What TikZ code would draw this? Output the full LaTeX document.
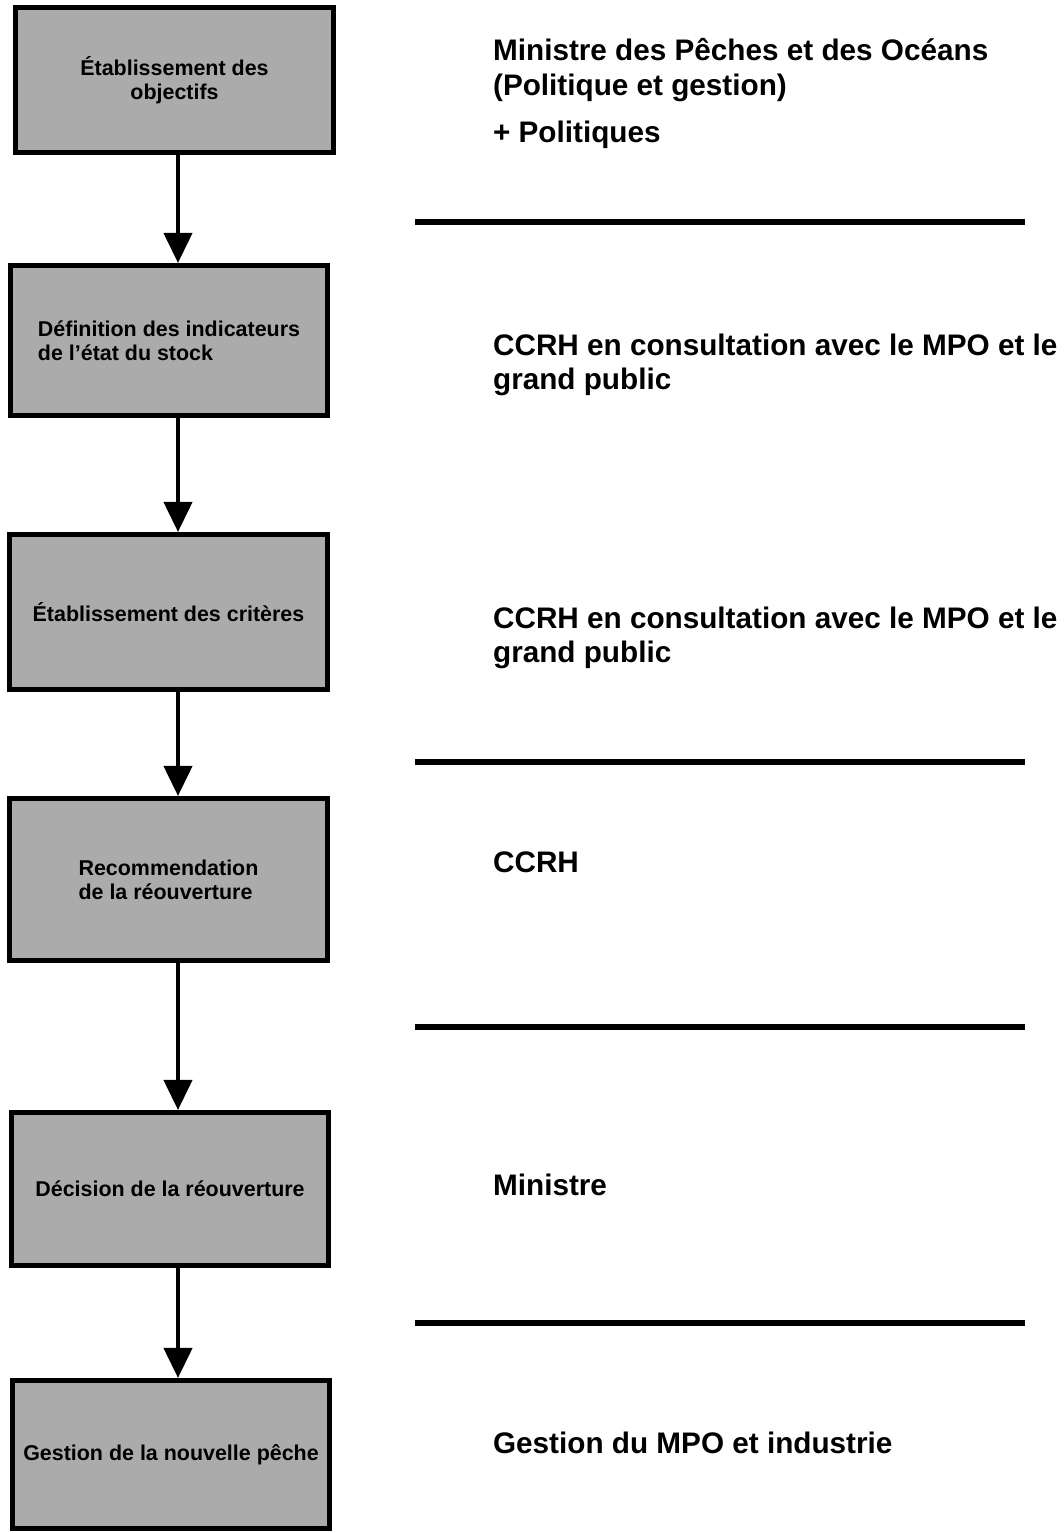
\documentclass[tikz,border=0pt]{standalone}
\usepackage{fontspec}
\setmainfont{Liberation Sans}
\usetikzlibrary{arrows.meta, positioning}
\definecolor{cbox}{HTML}{ABABAB}
\definecolor{cink}{HTML}{000000}
\tikzset{
  every picture/.style={font=\bfseries, line width=2.4pt},
  stage/.style={draw=cink, fill=cbox, minimum width=6.35cm, align=#1, inner sep=4pt, line width=2.6pt,
    font=\bfseries\fontsize{12.2}{13.6}\selectfont},
  stage/.default=center,
  arrow/.style={-{Triangle[length=6mm, width=5.6mm]}, draw=cink, line width=2.4pt},
  role/.style={anchor=west, align=left, inner sep=0pt, font=\bfseries\fontsize{16.9}{19.4}\selectfont},
  divider/.style={draw=cink, line width=3.4pt},
}

\begin{document}
\begin{tikzpicture}
  \useasboundingbox (0,0) rectangle (21.28,-30.66);
  % steps
  \node[stage, minimum height=2.91cm] (obj) at (3.49,-1.60) {Établissement des\\objectifs};
  \node[stage=left, minimum height=3.01cm] (ind) at (3.38,-6.81) {Définition des indicateurs\\de l'état du stock};
  \node[stage, minimum height=3.11cm] (crit) at (3.37,-12.24) {Établissement des critères};
  \node[stage=left, minimum height=3.25cm] (rec) at (3.37,-17.59) {Recommendation\\de la réouverture};
  \node[stage, minimum height=3.07cm] (dec) at (3.40,-23.78) {Décision de la réouverture};
  \node[stage, minimum height=2.97cm] (gest) at (3.42,-29.09) {Gestion de la nouvelle pêche};
  \coordinate (ax) at (3.56,0);
  \foreach \a/\b in {obj/ind, ind/crit, crit/rec, rec/dec, dec/gest}
    \draw[arrow] (\a.south -| ax) -- (\b.north -| ax);
  % who is in charge
  \node[role] (who-obj) at (9.82,-1.87) {Ministre des Pêches et des Océans\\(Politique et gestion)\\[0.26cm]+ Politiques};
  \node[role] (who-ind) at (9.82,-7.30) {CCRH en consultation avec le MPO et le\\grand public};
  \node[role] (who-crit) at (9.82,-12.76) {CCRH en consultation avec le MPO et le\\grand public};
  \node[role] (who-rec) at (9.82,-17.24) {CCRH};
  \node[role] (who-dec) at (9.82,-23.70) {Ministre};
  \node[role] (who-gest) at (9.82,-28.86) {Gestion du MPO et industrie};
  \foreach \y in {-4.44, -15.24, -20.54, -26.46}
    \draw[divider] (8.30,\y) -- (20.50,\y);
\end{tikzpicture}
\end{document}
